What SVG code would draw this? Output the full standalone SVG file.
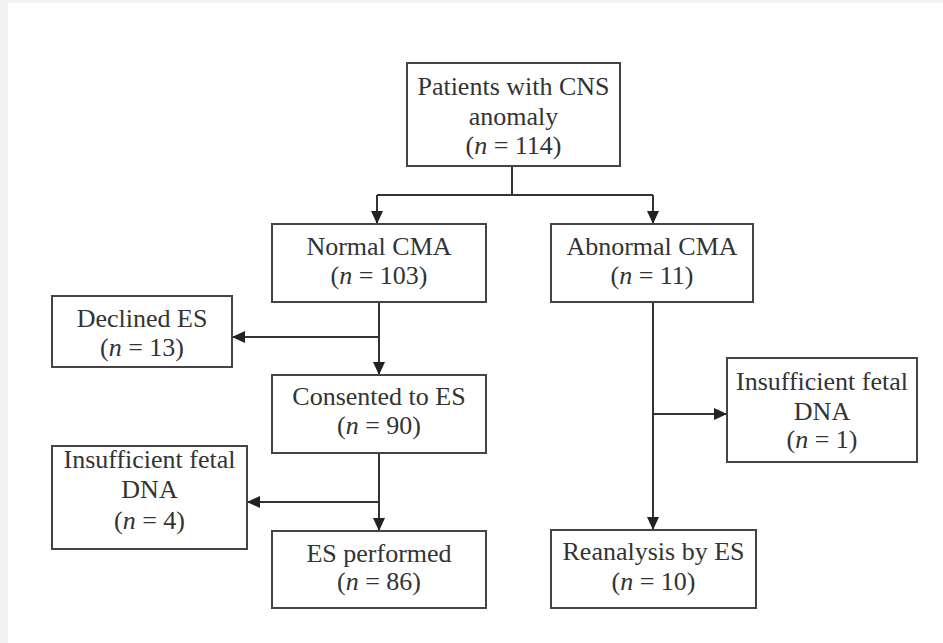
<svg xmlns="http://www.w3.org/2000/svg" width="943" height="643" viewBox="0 0 943 643">
<style>
.box{fill:#fff;stroke:#444;stroke-width:2}
.t{font-family:"Liberation Serif","Times New Roman",serif;font-size:26px;fill:#333;text-anchor:middle}
.i{font-style:italic}
.c{fill:none;stroke:#333;stroke-width:2}
</style>
<defs>
<marker id="ah" markerUnits="userSpaceOnUse" markerWidth="14" markerHeight="14" viewBox="0 0 14 14" refX="13" refY="7" orient="auto">
<path d="M0,1 L13,7 L0,13 Z" fill="#222"/>
</marker>
</defs>
<rect x="0" y="0" width="943" height="643" fill="#f2f2f2"/>
<rect x="8" y="3" width="935" height="640" fill="#fff"/>
<g id="connectors">
<path class="c" d="M512,166 V195"/>
<path class="c" d="M377,195 H653"/>
<path class="c" d="M377,195 V224" marker-end="url(#ah)"/>
<path class="c" d="M653,195 V224" marker-end="url(#ah)"/>
<path class="c" d="M379,302 V375" marker-end="url(#ah)"/>
<path class="c" d="M379,337 H232" marker-end="url(#ah)"/>
<path class="c" d="M379,453 V531" marker-end="url(#ah)"/>
<path class="c" d="M379,502 H247" marker-end="url(#ah)"/>
<path class="c" d="M653,302 V530" marker-end="url(#ah)"/>
<path class="c" d="M653,414 H727" marker-end="url(#ah)"/>
</g>
<g id="patients">
<rect class="box" x="407" y="63" width="213" height="103"/>
<text class="t" x="513.5" y="95">Patients with CNS</text>
<text class="t" x="513.5" y="125">anomaly</text>
<text class="t" x="513.5" y="154">(<tspan class="i">n</tspan> = 114)</text>
</g>
<g id="normal">
<rect class="box" x="272" y="224" width="214" height="78"/>
<text class="t" x="379" y="255">Normal CMA</text>
<text class="t" x="379" y="284">(<tspan class="i">n</tspan> = 103)</text>
</g>
<g id="abnormal">
<rect class="box" x="551" y="224" width="202" height="78"/>
<text class="t" x="652" y="255">Abnormal CMA</text>
<text class="t" x="652" y="284">(<tspan class="i">n</tspan> = 11)</text>
</g>
<g id="declined">
<rect class="box" x="52" y="296" width="180" height="71"/>
<text class="t" x="142" y="327">Declined ES</text>
<text class="t" x="142" y="356">(<tspan class="i">n</tspan> = 13)</text>
</g>
<g id="consented">
<rect class="box" x="272" y="375" width="214" height="78"/>
<text class="t" x="379" y="405">Consented to ES</text>
<text class="t" x="379" y="434">(<tspan class="i">n</tspan> = 90)</text>
</g>
<g id="insufficient-left">
<rect class="box" x="52" y="446" width="195" height="103"/>
<text class="t" x="149.5" y="468">Insufficient fetal</text>
<text class="t" x="149.5" y="498">DNA</text>
<text class="t" x="149.5" y="529">(<tspan class="i">n</tspan> = 4)</text>
</g>
<g id="es-performed">
<rect class="box" x="272" y="531" width="214" height="77"/>
<text class="t" x="379" y="562">ES performed</text>
<text class="t" x="379" y="590">(<tspan class="i">n</tspan> = 86)</text>
</g>
<g id="insufficient-right">
<rect class="box" x="727" y="358" width="190" height="104"/>
<text class="t" x="822" y="390">Insufficient fetal</text>
<text class="t" x="822" y="420">DNA</text>
<text class="t" x="822" y="448">(<tspan class="i">n</tspan> = 1)</text>
</g>
<g id="reanalysis">
<rect class="box" x="551" y="530" width="205" height="78"/>
<text class="t" x="653.5" y="560">Reanalysis by ES</text>
<text class="t" x="653.5" y="590">(<tspan class="i">n</tspan> = 10)</text>
</g>
</svg>
